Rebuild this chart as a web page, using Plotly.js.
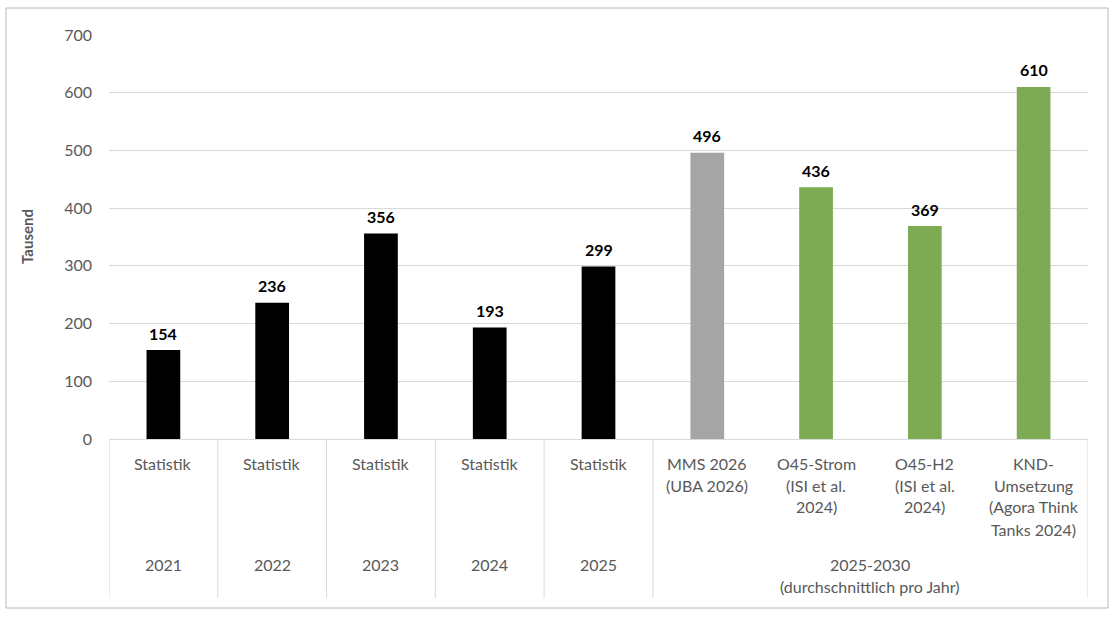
<!DOCTYPE html>
<html>
<head>
<meta charset="utf-8">
<script src="https://cdn.plot.ly/plotly-3.0.1.min.js"></script>
<style>html,body{margin:0;padding:0;background:#fff;}#chart{width:1118px;height:618px;}</style>
</head>
<body>
<div id="chart"></div>
<script>
// ---- data ----
const categories = [
  'Statistik', 'Statistik', 'Statistik', 'Statistik', 'Statistik',
  'MMS 2026\n(UBA 2026)',
  'O45-Strom\n(ISI et al.\n2024)',
  'O45-H2\n(ISI et al.\n2024)',
  'KND-\nUmsetzung\n(Agora Think\nTanks 2024)'
];
const values = [154, 236, 356, 193, 299, 496, 436, 369, 610];
const seriesType = ['Statistik', 'Statistik', 'Statistik', 'Statistik', 'Statistik', 'MMS', 'Szenario', 'Szenario', 'Szenario'];
const groupLabels = ['2021', '2022', '2023', '2024', '2025', '2025-2030\n(durchschnittlich pro Jahr)'];
const groupFirst = [0, 1, 2, 3, 4, 5];
const groupLast  = [0, 1, 2, 3, 4, 8];
const yTicks = [0, 100, 200, 300, 400, 500, 600, 700];
const yTitle = 'Tausend';

// ---- styling ----
const colorMap = { 'Statistik': '#000000', 'MMS': '#A5A5A5', 'Szenario': '#7DAB53' };
const FONT = 'Lato, "Open Sans", sans-serif';
const GREY = '#595959';
const plotTop = 35, plotBottom = 439, plotLeft = 109, plotRight = 1088;
const plotH = plotBottom - plotTop, plotW = plotRight - plotLeft;
const py = p => (plotBottom - p) / plotH;   // pixel y -> paper y
const px = p => (p - plotLeft) / plotW;     // pixel x -> paper x

const xIdx = categories.map((_, i) => i);

const trace = {
  type: 'bar',
  x: xIdx,
  y: values,
  width: 0.31,
  marker: { color: seriesType.map(t => colorMap[t]), line: { width: 0 } },
  hoverinfo: 'skip'
};

const annotations = [];
// data labels
values.forEach((v, i) => {
  annotations.push({
    x: i, y: v, xref: 'x', yref: 'y', text: '<b>' + v + '</b>',
    showarrow: false, yanchor: 'middle', yshift: 17,
    font: { family: FONT, size: 16, color: '#000000' }
  });
});
// inner category labels (line by line)
const lineGap = 22;
categories.forEach((c, i) => {
  c.split('\n').forEach((ln, k) => {
    annotations.push({
      x: i, xref: 'x', y: py(463 + k * lineGap), yref: 'paper', text: ln,
      showarrow: false, yanchor: 'middle',
      font: { family: FONT, size: 16, color: GREY }
    });
  });
});
// outer group labels
groupLabels.forEach((g, j) => {
  const cx = (groupFirst[j] + groupLast[j]) / 2;
  g.split('\n').forEach((ln, k) => {
    annotations.push({
      x: cx, xref: 'x', y: py(564 + k * lineGap), yref: 'paper', text: ln,
      showarrow: false, yanchor: 'middle',
      font: { family: FONT, size: 16, color: GREY }
    });
  });
});
// y axis title
annotations.push({
  x: px(27), xref: 'paper', y: 0.5, yref: 'paper', text: '<b>' + yTitle + '</b>',
  textangle: -90, showarrow: false, xanchor: 'center', yanchor: 'middle',
  font: { family: FONT, size: 15, color: GREY }
});

const shapes = [];
// outer frame
shapes.push({
  type: 'rect', xref: 'paper', yref: 'paper',
  x0: px(6), x1: px(1108), y0: py(608), y1: py(8),
  line: { color: '#B8B8B8', width: 1 }, fillcolor: 'rgba(0,0,0,0)', layer: 'below'
});
// group dividers
const dividerX = [groupFirst[0] - 0.5].concat(groupLast.map(l => l + 0.5));
dividerX.forEach(xv => {
  shapes.push({
    type: 'line', xref: 'x', yref: 'paper', x0: xv, x1: xv, y0: 0, y1: py(598),
    line: { color: '#D9D9D9', width: 1 }
  });
});

const layout = {
  width: 1118, height: 618,
  margin: { l: plotLeft, r: 1118 - plotRight, t: plotTop, b: 618 - plotBottom, pad: 0 },
  paper_bgcolor: '#ffffff', plot_bgcolor: '#ffffff',
  showlegend: false,
  bargap: 0.69,
  xaxis: {
    range: [-0.5, categories.length - 0.5],
    showticklabels: false, showgrid: false, zeroline: false,
    showline: true, linecolor: '#D9D9D9', linewidth: 1, ticks: '', fixedrange: true
  },
  yaxis: {
    range: [0, 700], tickvals: yTicks, ticktext: yTicks.map(String),
    showgrid: true, gridcolor: '#D9D9D9', gridwidth: 1,
    zeroline: false, showline: false, ticks: '',
    ticklabelstandoff: 16,
    tickfont: { family: FONT, size: 16, color: GREY }, fixedrange: true
  },
  annotations: annotations,
  shapes: shapes
};

Plotly.newPlot('chart', [trace], layout, { displayModeBar: false, staticPlot: true });
</script>
</body>
</html>
